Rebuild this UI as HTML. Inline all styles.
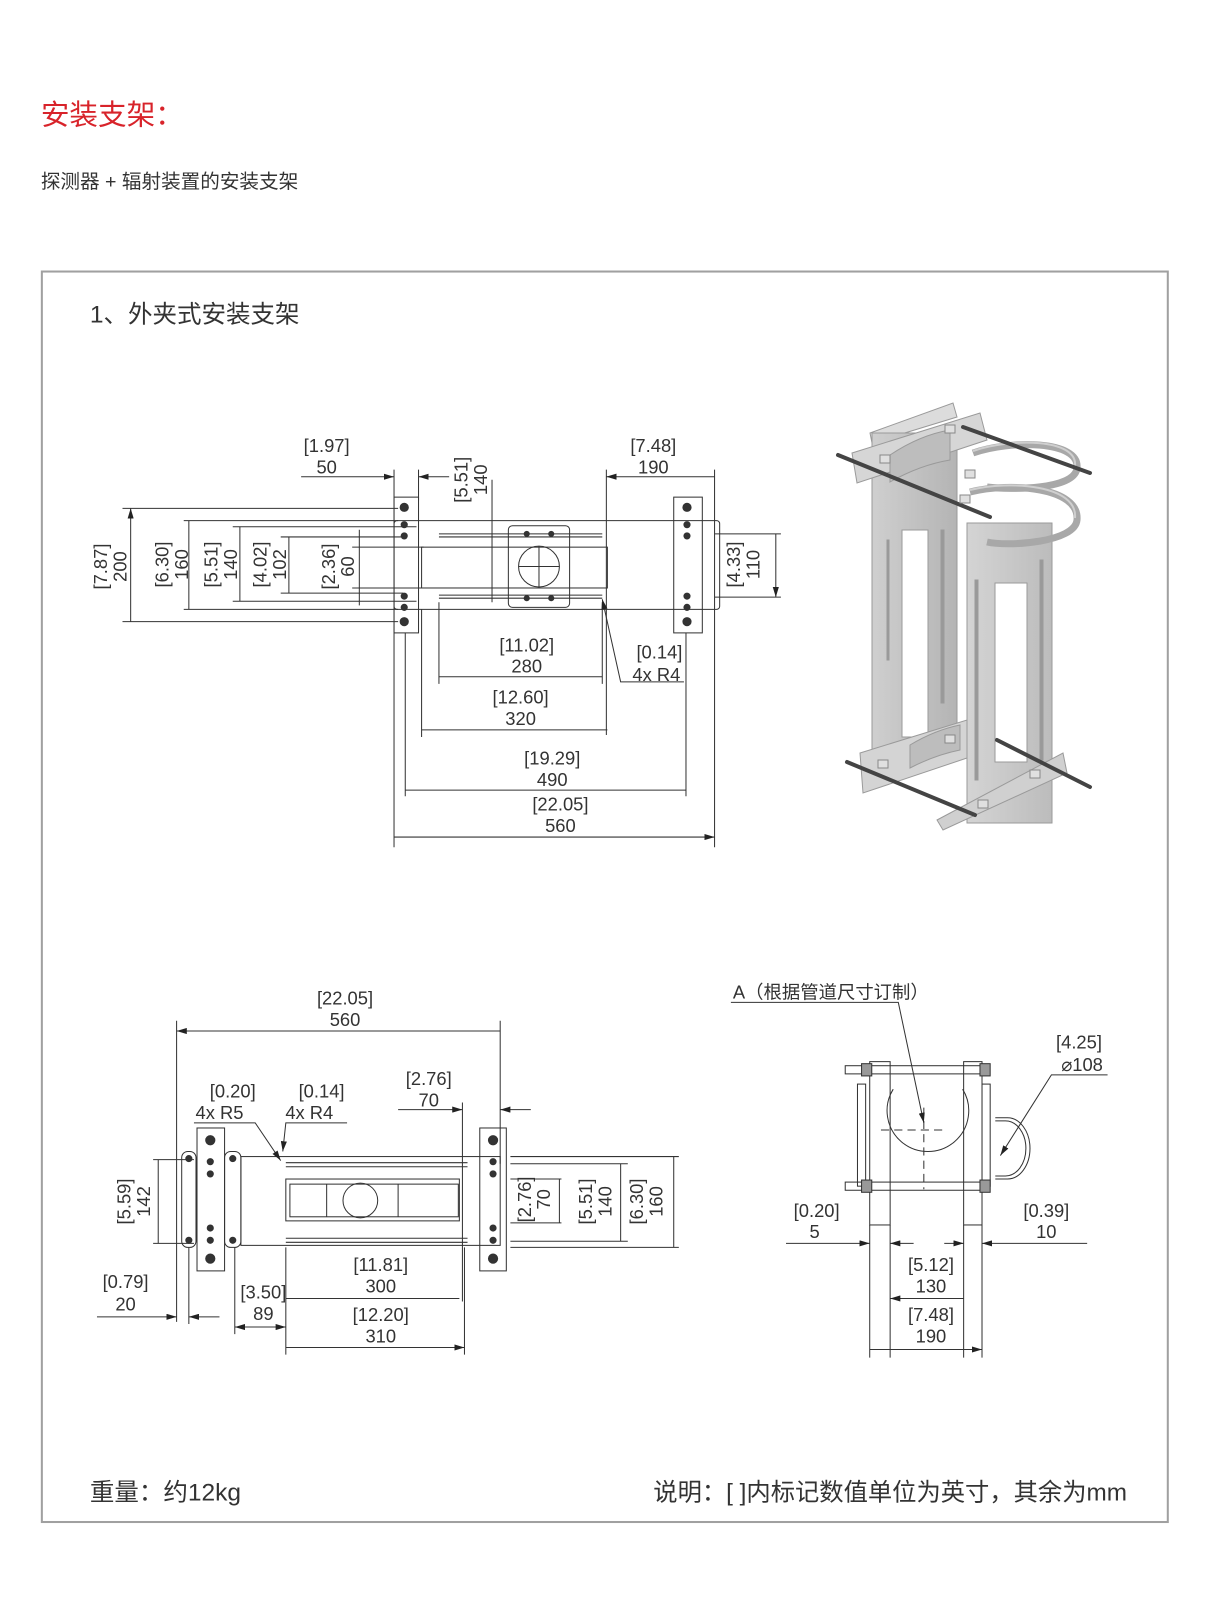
<!DOCTYPE html>
<html><head><meta charset="utf-8"><style>
html,body{margin:0;padding:0;background:#fff;}
body{width:1225px;height:1600px;position:relative;overflow:hidden;font-family:"Liberation Sans","Noto Sans CJK SC",sans-serif;}
#w{position:absolute;left:0;top:0;width:1200px;height:1568px;transform:scale(1.0208);transform-origin:0 0;}
.t{position:absolute;white-space:nowrap;}
</style></head><body>
<div id="w">
<div class="t" style="left:40px;top:91px;font-size:28px;color:#d8232a;">安装支架：</div>
<div class="t" style="left:40px;top:162px;font-size:19.2px;color:#333;">探测器 + 辐射装置的安装支架</div>
<div style="position:absolute;left:40px;top:265px;width:1101px;height:1223px;border:2px solid #a0a0a0;"></div>
<div class="t" style="left:88px;top:288px;font-size:24px;color:#333;">1、外夹式安装支架</div>
<div class="t" style="left:88px;top:1442px;font-size:24px;color:#333;">重量：约12kg</div>
<div class="t" style="left:640px;top:1442px;font-size:23.8px;color:#333;">说明：[ ]内标记数值单位为英寸，其余为mm</div>

<svg width="1200" height="1568" style="position:absolute;left:0;top:0" xmlns="http://www.w3.org/2000/svg">
<defs>
<marker id="a" viewBox="0 0 10 6" refX="10" refY="3" markerWidth="10" markerHeight="6" orient="auto-start-reverse" markerUnits="userSpaceOnUse"><path d="M0,0L10,3L0,6z" fill="#222"/></marker>
</defs>
<g stroke="#333" stroke-width="1" fill="none">
<rect x="386" y="487" width="24" height="133"/>
<rect x="386" y="510" width="319" height="87" rx="3"/>
<rect x="660" y="487" width="28" height="133"/>
<rect x="413" y="536" width="182" height="40"/>
<rect x="498" y="515" width="60" height="80" rx="4"/>
<circle cx="528" cy="555" r="20"/>
<path d="M508 555h40M528 535v40"/>
<path d="M430 523h160M430 526h160M430 583h160M430 586h160"/>
<g fill="#333"><circle cx="396" cy="497" r="4"/><circle cx="396" cy="514" r="3"/><circle cx="396" cy="525" r="3"/><circle cx="396" cy="584" r="3"/><circle cx="396" cy="595" r="3"/><circle cx="396" cy="609" r="4"/>
<circle cx="673" cy="497" r="4"/><circle cx="673" cy="514" r="3"/><circle cx="673" cy="525" r="3"/><circle cx="673" cy="584" r="3"/><circle cx="673" cy="595" r="3"/><circle cx="673" cy="609" r="4"/>
<circle cx="516" cy="523" r="2.5"/><circle cx="540" cy="523" r="2.5"/><circle cx="516" cy="586" r="2.5"/><circle cx="540" cy="586" r="2.5"/></g>
<path d="M120 498h270M120 609h270M180 510h210M228 516h180M275 526h120M345 536h70M345 576h70M275 581h120M228 589h180M180 597h210"/>
<path d="M386 460v370M410 460v30M594 460v260M700 460v370M482 470v120M430 590v80M590 590v80M413 597v125M397 620v160M672 620v160M700 523h65M700 585h65"/>
<path d="M128 498V609M185 510V597M235 516V589M283 526V581M352 519V593M760 523V585" marker-start="url(#a)" marker-end="url(#a)"/>
<path d="M295 467H386" marker-end="url(#a)"/><path d="M440 467H410" marker-end="url(#a)"/>
<path d="M594 467H700M430 663H590M413 715H595M397 774H672M386 820H700" marker-start="url(#a)" marker-end="url(#a)"/>
<path d="M670 668H608L590 587" marker-end="url(#a)"/>
<rect x="178" y="1128" width="14" height="94" rx="6"/>
<rect x="193" y="1105" width="27" height="140"/>
<rect x="220" y="1128" width="16" height="94" rx="6"/>
<rect x="236" y="1133" width="254" height="87"/>
<rect x="280" y="1155" width="170" height="41"/>
<rect x="284" y="1160" width="165" height="32"/>
<circle cx="353" cy="1176" r="17"/>
<path d="M320 1160v32M390 1160v32"/>
<path d="M280 1139h178M280 1143h178M280 1213h178M280 1217h178"/>
<rect x="470" y="1105" width="26" height="140"/>
<g fill="#333"><circle cx="206" cy="1117" r="4.5"/><circle cx="206" cy="1138" r="3"/><circle cx="206" cy="1150" r="3"/><circle cx="206" cy="1203" r="3"/><circle cx="206" cy="1215" r="3"/><circle cx="206" cy="1233" r="4.5"/>
<circle cx="185" cy="1135" r="3"/><circle cx="185" cy="1215" r="3"/><circle cx="228" cy="1135" r="3"/><circle cx="228" cy="1215" r="3"/>
<circle cx="483" cy="1117" r="4.5"/><circle cx="483" cy="1138" r="3"/><circle cx="483" cy="1150" r="3"/><circle cx="483" cy="1203" r="3"/><circle cx="483" cy="1215" r="3"/><circle cx="483" cy="1233" r="4.5"/></g>
<path d="M173 1000v295M490 1000v140M453 1080v195M150 1136h40M150 1218h40M500 1133h165M500 1155h50M500 1198h50M500 1140h115M500 1216h115M500 1222h165M185 1222v75M230 1222v85M280 1222v105M455 1222v105"/>
<path d="M173 1010H490M155 1136V1218M548 1155V1198M608 1140V1216M660 1133V1222M280 1272H450M280 1320H455" marker-start="url(#a)" marker-end="url(#a)"/>
<path d="M390 1087H453" marker-end="url(#a)"/><path d="M520 1087H490" marker-end="url(#a)"/>
<path d="M95 1290H173" marker-end="url(#a)"/><path d="M215 1290H185" marker-end="url(#a)"/>
<path d="M230 1300H280" marker-start="url(#a)" marker-end="url(#a)"/>
<path d="M190 1100H250L275 1137" marker-end="url(#a)"/>
<path d="M340 1100H280L277 1128" marker-end="url(#a)"/>
<rect x="852" y="1040" width="20" height="160"/>
<rect x="944" y="1040" width="18" height="160"/>
<path d="M852 1200v130M872 1200v130M944 1200v130M962 1200v130"/>
<rect x="828" y="1044" width="140" height="8"/>
<rect x="828" y="1158" width="140" height="8"/>
<path d="M875 1067a40 40 0 1 0 68 0" />
<path d="M863 1107h62M905 1085v80" stroke-dasharray="8 5"/>
<path d="M975 1095h12a22 30 0 0 1 0 60h-12"/>
<path d="M975 1098h10a20 27 0 0 1 0 54h-10"/>
<rect x="840" y="1062" width="8" height="100"/>
<rect x="962" y="1062" width="8" height="100"/>
<g fill="#999"><rect x="844" y="1042" width="10" height="12"/><rect x="960" y="1042" width="10" height="12"/><rect x="844" y="1156" width="10" height="12"/><rect x="960" y="1156" width="10" height="12"/></g>
<path d="M716 982H880L905 1100" marker-end="url(#a)"/>
<path d="M1085 1053H1030L980 1132" marker-end="url(#a)"/>
<path d="M770 1218H852" marker-end="url(#a)"/><path d="M895 1218H872" marker-end="url(#a)"/>
<path d="M1065 1218H962" marker-end="url(#a)"/><path d="M925 1218H944" marker-end="url(#a)"/>
<path d="M872 1272H944M852 1322H962" marker-start="url(#a)" marker-end="url(#a)"/>
</g>
<g font-family="Liberation Sans, sans-serif" font-size="18" fill="#333" text-anchor="middle">
<text x="320" y="443">[1.97]</text><text x="320" y="464">50</text>
<text x="640" y="443">[7.48]</text><text x="640" y="464">190</text>
<text x="516" y="638">[11.02]</text><text x="516" y="659">280</text>
<text x="646" y="645">[0.14]</text><text x="643" y="667">4x R4</text>
<text x="510" y="689">[12.60]</text><text x="510" y="710">320</text>
<text x="541" y="749">[19.29]</text><text x="541" y="770">490</text>
<text x="549" y="794">[22.05]</text><text x="549" y="815">560</text>
<g transform="rotate(-90)">
<text x="-555" y="105">[7.87]</text><text x="-555" y="124">200</text>
<text x="-553" y="165">[6.30]</text><text x="-553" y="184">160</text>
<text x="-553" y="213">[5.51]</text><text x="-553" y="232">140</text>
<text x="-553" y="261">[4.02]</text><text x="-553" y="280">102</text>
<text x="-555" y="328">[2.36]</text><text x="-555" y="347">60</text>
<text x="-470" y="458">[5.51]</text><text x="-470" y="477">140</text>
<text x="-553" y="725">[4.33]</text><text x="-553" y="744">110</text>
<text x="-1177" y="128">[5.59]</text><text x="-1177" y="147">142</text>
<text x="-1175" y="520">[2.76]</text><text x="-1175" y="539">70</text>
<text x="-1177" y="580">[5.51]</text><text x="-1177" y="599">140</text>
<text x="-1177" y="630">[6.30]</text><text x="-1177" y="649">160</text>
</g>
<text x="338" y="984">[22.05]</text><text x="338" y="1005">560</text>
<text x="228" y="1075">[0.20]</text><text x="215" y="1096">4x R5</text>
<text x="315" y="1075">[0.14]</text><text x="303" y="1096">4x R4</text>
<text x="420" y="1063">[2.76]</text><text x="420" y="1084">70</text>
<text x="123" y="1262">[0.79]</text><text x="123" y="1284">20</text>
<text x="258" y="1272">[3.50]</text><text x="258" y="1293">89</text>
<text x="373" y="1245">[11.81]</text><text x="373" y="1266">300</text>
<text x="373" y="1294">[12.20]</text><text x="373" y="1315">310</text>
<text x="1057" y="1027">[4.25]</text><text x="1060" y="1049">⌀108</text>
<text x="800" y="1192">[0.20]</text><text x="798" y="1213">5</text>
<text x="1025" y="1192">[0.39]</text><text x="1025" y="1213">10</text>
<text x="912" y="1245">[5.12]</text><text x="912" y="1266">130</text>
<text x="912" y="1294">[7.48]</text><text x="912" y="1315">190</text>
</g>
<text x="718" y="978" font-family="Liberation Sans, Noto Sans CJK SC, sans-serif" font-size="18" fill="#333">A（根据管道尺寸订制）</text>
</svg>
</div>

<svg width="1225" height="1600" style="position:absolute;left:0;top:0" xmlns="http://www.w3.org/2000/svg">
<defs>
<linearGradient id="g" x1="0" x2="1"><stop offset="0" stop-color="#cfcfcf"/><stop offset="1" stop-color="#b4b4b4"/></linearGradient>
<linearGradient id="g2" x1="0" x2="1"><stop offset="0" stop-color="#d4d4d4"/><stop offset="1" stop-color="#bcbcbc"/></linearGradient>
</defs>
<g stroke="#9a9a9a" stroke-width="1">
<path d="M870 433L953 403L957 417L872 443Z" fill="#dcdcdc"/>
<path d="M872 433H957V753H872Z" fill="url(#g)"/>
<rect x="902" y="530" width="26" height="207" fill="#fff"/>
<rect x="941" y="530" width="3" height="173" fill="#999"/>
<rect x="887" y="540" width="2" height="120" fill="#999"/>
<path d="M852 453L980 413L987 440L857 483Z" fill="#d6d6d6"/>
<path d="M890 455q30 -20 60 -25v30q-30 5 -60 22z" fill="#bdbdbd"/>
<path d="M860 753L967 720L970 757L863 793Z" fill="#d4d4d4"/>
<path d="M910 745q25 -15 50 -20v25q-25 5 -50 18z" fill="#bdbdbd"/>
<path d="M967 523H1052V823H967Z" fill="url(#g2)"/>
<rect x="995" y="583" width="32" height="179" fill="#fff"/>
<rect x="975" y="580" width="3" height="200" fill="#999"/>
<rect x="1040" y="560" width="3" height="200" fill="#999"/>
<path d="M937 820L1063 753L1067 773L943 830Z" fill="#d0d0d0"/>
</g>
<g fill="none" stroke="#a8a8a8" stroke-width="7">
<path d="M973 453C1010 440 1080 440 1077 468C1075 490 1010 490 987 487"/>
<path d="M970 492C1010 482 1080 487 1077 520C1075 542 1010 547 987 542"/>
</g>
<g fill="none" stroke="#cfcfcf" stroke-width="2">
<path d="M973 451C1010 438 1078 438 1075 466"/>
<path d="M970 490C1010 480 1078 485 1075 518"/>
</g>
<g stroke="#444" stroke-width="4" stroke-linecap="round">
<path d="M838 455L990 517M963 427L1090 473M847 762L975 815M997 740L1090 787"/>
</g>
<g fill="#e0e0e0" stroke="#888" stroke-width="1">
<rect x="880" y="455" width="10" height="8"/><rect x="945" y="425" width="10" height="8"/>
<rect x="965" y="470" width="10" height="8"/><rect x="960" y="495" width="10" height="8"/>
<rect x="878" y="760" width="10" height="8"/><rect x="945" y="735" width="10" height="8"/>
<rect x="1030" y="770" width="10" height="8"/><rect x="978" y="800" width="10" height="8"/>
</g>
</svg>
</body></html>
